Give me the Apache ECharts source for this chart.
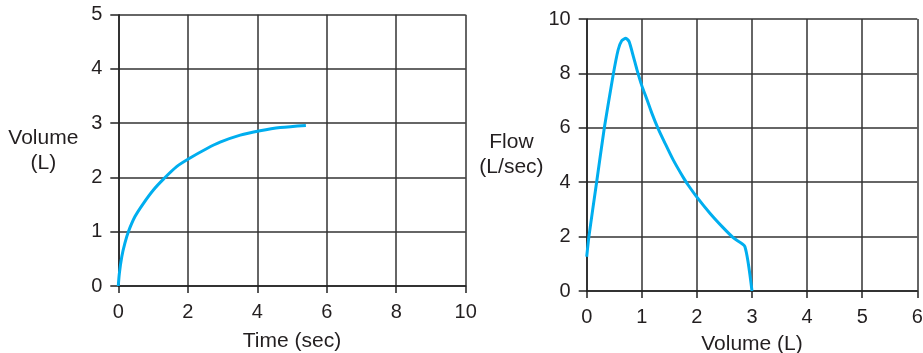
<!DOCTYPE html>
<html>
<head>
<meta charset="utf-8">
<script src="https://cdn.jsdelivr.net/npm/echarts@6/dist/echarts.min.js"></script>
<style>
  html, body { margin: 0; padding: 0; background: #fff; }
  #chart { width: 923px; height: 353px; }
</style>
</head>
<body>
<div id="chart"></div>
<script>
// Left chart: volume over time
var timeSec = [0, 0.03, 0.1, 0.19, 0.29, 0.48, 0.72, 1.01, 1.3, 1.68, 2.04, 2.54, 2.93, 3.51, 4.08, 4.66, 5.4];
var volumeL = [0, 0.23, 0.54, 0.79, 1.0, 1.28, 1.52, 1.77, 1.97, 2.2, 2.35, 2.53, 2.65, 2.78, 2.86, 2.92, 2.96];

// Right chart: flow over volume
var flowVolume = [0, 0.04, 0.18, 0.32, 0.48, 0.57, 0.635, 0.71, 0.77, 0.85, 0.91, 1.0, 1.09, 1.18, 1.29, 1.42, 1.57, 1.76, 1.85, 2.0, 2.24, 2.48, 2.67, 2.87, 3.0];
var flowRate   = [1.26, 2.0, 4.0, 6.0, 7.94, 8.86, 9.2, 9.29, 9.17, 8.6, 8.15, 7.55, 7.06, 6.55, 6.0, 5.44, 4.82, 4.15, 3.87, 3.45, 2.85, 2.32, 1.94, 1.64, 0];

// Axis ticks
var leftXTicks = [0, 10, 2];   // min, max, interval
var leftYTicks = [0, 5, 1];
var rightXTicks = [0, 6, 1];
var rightYTicks = [0, 10, 2];

var FONT = "'Liberation Sans', Arial, Helvetica, sans-serif";
var TXT = '#231f20';

function pairs(xs, ys) {
  var out = [];
  for (var i = 0; i < xs.length; i++) out.push([xs[i], ys[i]]);
  return out;
}

function axisCommon(ticks, gridIndex, labelMargin, tickLen) {
  return {
    type: 'value',
    gridIndex: gridIndex,
    min: ticks[0], max: ticks[1], interval: ticks[2],
    axisLine: { show: true, lineStyle: { color: '#222', width: 1.5 } },
    axisTick: { show: true, inside: false, length: tickLen, lineStyle: { color: '#222', width: 1.5 } },
    splitLine: { show: true, lineStyle: { color: '#333', width: 1.5 } },
    axisLabel: { fontSize: 20, fontFamily: FONT, color: TXT, margin: labelMargin },
    nameTextStyle: { fontSize: 21, fontFamily: FONT, color: TXT, lineHeight: 25 }
  };
}

var xL = axisCommon(leftXTicks, 0, 16, 7);
xL.name = 'Time (sec)'; xL.nameLocation = 'middle'; xL.nameGap = 43;
var yL = axisCommon(leftYTicks, 0, 16, 8);
yL.name = 'Volume\n(L)'; yL.nameLocation = 'middle'; yL.nameRotate = 0; yL.nameGap = 75;
yL.nameTextStyle.align = 'center'; yL.nameTextStyle.verticalAlign = 'middle';

var xR = axisCommon(rightXTicks, 1, 16, 7);
xR.name = 'Volume (L)'; xR.nameLocation = 'middle'; xR.nameGap = 38;
var yR = axisCommon(rightYTicks, 1, 16, 8);
yR.name = 'Flow\n(L/sec)'; yR.nameLocation = 'middle'; yR.nameRotate = 0; yR.nameGap = 69;
yR.nameTextStyle.align = 'center'; yR.nameTextStyle.verticalAlign = 'middle';

var chart = echarts.init(document.getElementById('chart'), null, { renderer: 'canvas' });
chart.setOption({
  animation: false,
  backgroundColor: '#fff',
  grid: [
    { left: 118.3, right: 457.3, top: 14.7, bottom: 67, outerBoundsMode: 'none', containLabel: false },
    { left: 586.7, right: 5.7, top: 19, bottom: 62, outerBoundsMode: 'none', containLabel: false }
  ],
  xAxis: [xL, xR],
  yAxis: [yL, yR],
  series: [
    {
      type: 'line', xAxisIndex: 0, yAxisIndex: 0,
      data: pairs(timeSec, volumeL),
      smooth: 0.3, showSymbol: false,
      lineStyle: { color: '#00aeef', width: 3 }
    },
    {
      type: 'line', xAxisIndex: 1, yAxisIndex: 1,
      data: pairs(flowVolume, flowRate),
      smooth: 0.2, showSymbol: false,
      lineStyle: { color: '#00aeef', width: 3 }
    }
  ]
});
</script>
</body>
</html>
